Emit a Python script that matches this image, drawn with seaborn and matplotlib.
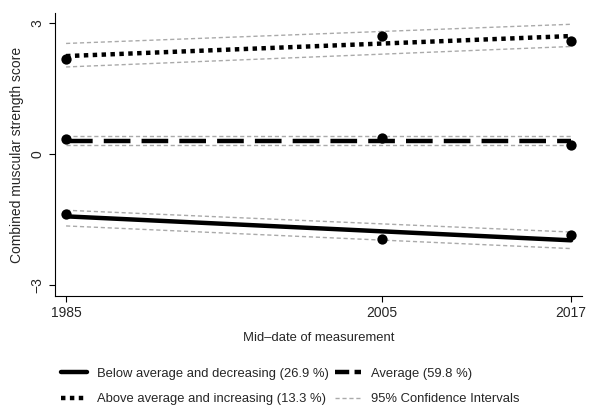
import numpy as np
import pandas as pd
import matplotlib
matplotlib.use("Agg")
import matplotlib.pyplot as plt
from matplotlib.lines import Line2D
import seaborn as sns

# observed group means
years = [1985, 2005, 2017]
below_obs = [-1.37, -1.94, -1.85]
avg_obs = [0.34, 0.38, 0.21]
above_obs = [2.18, 2.72, 2.60]

# fitted trend lines (endpoints 1985, 2017) with 95% CI
fit_years = [1985, 2017]
below_fit = [-1.43, -1.98]
below_lo = [-1.65, -2.17]
below_hi = [-1.29, -1.79]
avg_fit = [0.31, 0.31]
avg_lo = [0.20, 0.20]
avg_hi = [0.41, 0.41]
above_fit = [2.25, 2.71]
above_lo = [2.00, 2.47]
above_hi = [2.54, 2.98]

labels = ["Below average and decreasing (26.9 %)",
          "Above average and increasing (13.3 %)",
          "Average (59.8 %)", "95% Confidence Intervals"]

sns.set_style("white")
plt.rcParams['font.family'] = ['Liberation Sans', 'DejaVu Sans']

fig = plt.figure(figsize=(5.89, 4.05), dpi=100)
ax = fig.add_axes([0.0934, 0.269, 0.895, 0.699])

obs = pd.DataFrame({"year": years * 3,
                    "score": below_obs + avg_obs + above_obs,
                    "group": ["below"] * 3 + ["avg"] * 3 + ["above"] * 3})
sns.scatterplot(data=obs, x="year", y="score", color="black", s=55,
                edgecolor="black", linewidth=0, ax=ax, legend=False, zorder=3)

styles = {"below": "-", "avg": (0, (6, 2.5)), "above": (0, (1, 1))}
fits = {"below": (below_fit, below_lo, below_hi),
        "avg": (avg_fit, avg_lo, avg_hi),
        "above": (above_fit, above_lo, above_hi)}
handles = {}
for g, (f, lo, hi) in fits.items():
    ax.plot(fit_years, lo, color="#aaaaaa", lw=1, ls=(0, (3, 2)), zorder=2)
    ax.plot(fit_years, hi, color="#aaaaaa", lw=1, ls=(0, (3, 2)), zorder=2)
    l, = ax.plot(fit_years, f, color="black", lw=3.2, ls=styles[g], zorder=4)
    handles[g] = l
# shorter dashes for the legend key of the average group
avg_key = Line2D([], [], color="black", lw=3.2, ls=(0, (3.2, 1.2)))
ci_key = Line2D([], [], color="#aaaaaa", lw=1, ls=(0, (3, 2)))

ax.set_xlim(1984.3, 2017.7)
ax.set_ylim(-3.26, 3.24)
ax.set_xticks([1985, 2005, 2017])
ax.set_yticks([-3, 0, 3])
ax.set_yticklabels(["\u22123", "0", "3"], rotation=90, va="center")
ax.tick_params(axis="both", length=4, width=0.8, labelsize=10, color="black",
               direction="out", left=True, bottom=True)
ax.set_xlabel("Mid\u2013date of measurement", fontsize=9.4, labelpad=8)
ax.set_ylabel("Combined muscular strength score", fontsize=10, labelpad=5)
for s in ["top", "right"]:
    ax.spines[s].set_visible(False)
for s in ["left", "bottom"]:
    ax.spines[s].set_color("black")
    ax.spines[s].set_linewidth(0.8)

fig.legend([handles["below"], handles["above"], avg_key, ci_key],
           labels, ncol=2, loc="upper left", bbox_to_anchor=(61 / 589, 0.092),
           borderpad=0, borderaxespad=0, frameon=False, fontsize=9.4,
           handlelength=2.0, columnspacing=0.45, handletextpad=0.75,
           labelspacing=1.0)

fig.savefig("out.png", dpi=100)
